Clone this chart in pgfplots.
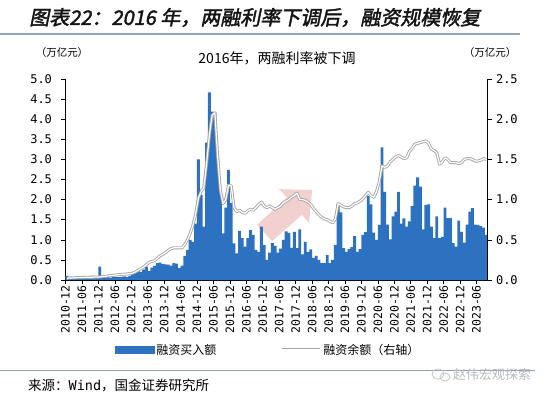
\documentclass[border=0pt]{standalone}
\usepackage{pgfplots}
\pgfplotsset{compat=1.18}
\usepackage{pgfplotstable}
\usepackage{fontspec}
\setmainfont{Liberation Sans}
\setmonofont{DejaVu Sans Mono}
\newfontfamily\cjk{Noto Sans CJK SC}
\newfontfamily\cjktitle{Noto Sans CJK SC}[FakeBold=2,FakeSlant=0.2]
\definecolor{barblue}{RGB}{44,114,192}
\definecolor{linegray}{RGB}{165,165,165}
\definecolor{titlecol}{RGB}{20,20,20}
\definecolor{rulecol}{RGB}{145,165,185}
\definecolor{arrowpink}{RGB}{220,110,110}
\pgfplotstableread{
i buy bal
0 0.10 0.020
1 0.03 0.025
2 0.03 0.026
3 0.04 0.028
4 0.04 0.030
5 0.03 0.031
6 0.03 0.032
7 0.04 0.033
8 0.03 0.034
9 0.04 0.035
10 0.04 0.036
11 0.05 0.037
12 0.33 0.038
13 0.05 0.042
14 0.06 0.046
15 0.07 0.050
16 0.06 0.054
17 0.07 0.058
18 0.08 0.062
19 0.07 0.066
20 0.08 0.070
21 0.09 0.073
22 0.08 0.076
23 0.10 0.080
24 0.15 0.085
25 0.19 0.100
26 0.23 0.120
27 0.20 0.140
28 0.26 0.160
29 0.33 0.190
30 0.22 0.220
31 0.31 0.230
32 0.35 0.240
33 0.42 0.270
34 0.43 0.300
35 0.40 0.320
36 0.39 0.340
37 0.38 0.370
38 0.36 0.390
39 0.42 0.400
40 0.41 0.400
41 0.30 0.400
42 0.36 0.400
43 0.60 0.440
44 0.75 0.500
45 1.00 0.580
46 0.95 0.680
47 1.40 0.820
48 3.00 1.020
49 2.12 1.100
50 1.33 1.150
51 3.42 1.450
52 4.67 1.800
53 4.19 2.050
54 4.17 2.080
55 3.07 1.550
56 2.24 1.120
57 1.16 0.950
58 1.80 1.000
59 2.74 1.180
60 1.92 1.170
61 0.91 0.900
62 0.66 0.850
63 1.22 0.870
64 1.04 0.840
65 0.83 0.830
66 1.04 0.860
67 1.24 0.880
68 1.12 0.870
69 0.75 0.900
70 0.70 0.940
71 1.33 0.970
72 0.87 0.920
73 0.50 0.900
74 0.68 0.920
75 0.92 0.900
76 0.85 0.880
77 0.68 0.900
78 0.78 0.920
79 1.00 0.960
80 1.21 0.980
81 1.17 1.000
82 0.80 1.030
83 1.20 1.050
84 0.79 1.080
85 1.26 1.000
86 0.64 1.000
87 0.95 0.990
88 0.70 0.970
89 0.76 0.940
90 0.55 0.890
91 0.60 0.850
92 0.50 0.810
93 0.42 0.780
94 0.42 0.760
95 0.62 0.750
96 0.42 0.730
97 0.50 0.710
98 0.87 0.760
99 1.89 0.950
100 1.68 0.930
101 0.79 0.910
102 0.70 0.900
103 0.77 0.900
104 0.82 0.920
105 1.09 0.950
106 0.70 0.960
107 0.77 0.980
108 1.12 1.010
109 1.19 1.050
110 2.09 1.090
111 1.88 1.050
112 1.18 1.030
113 1.00 1.100
114 1.37 1.220
115 3.30 1.420
116 2.19 1.400
117 1.38 1.420
118 1.01 1.470
119 1.58 1.500
120 1.70 1.530
121 2.19 1.550
122 1.40 1.530
123 1.53 1.510
124 1.33 1.520
125 1.46 1.600
126 1.84 1.640
127 2.35 1.690
128 2.55 1.700
129 2.32 1.710
130 1.26 1.720
131 1.87 1.730
132 1.88 1.700
133 1.33 1.630
134 1.04 1.610
135 1.58 1.580
136 1.04 1.440
137 1.07 1.470
138 1.80 1.520
139 1.54 1.500
140 1.54 1.460
141 0.92 1.460
142 0.83 1.460
143 1.48 1.450
144 1.20 1.460
145 0.93 1.500
146 1.38 1.510
147 1.70 1.510
148 1.79 1.500
149 1.38 1.480
150 1.37 1.480
151 1.34 1.490
152 1.30 1.510
153 1.12 1.500
}\datatab
\begin{document}
\begin{tikzpicture}
\fill[white] (0pt,0pt) rectangle (550pt,-397pt);
\path[use as bounding box] (0pt,0pt) rectangle (550pt,-397pt);
% header
\node[anchor=west, inner sep=0pt, text=titlecol, font=\cjktitle\fontsize{20}{22}\selectfont] at (29pt,-17.5pt) {图表22：2016 年，两融利率下调后，融资规模恢复};
\draw[rulecol, line width=2pt] (0pt,-34pt) -- (520pt,-34pt);
% units and inner title
\node[font=\cjk\fontsize{10.5}{12}\selectfont] at (62pt,-53pt) {（万亿元）};
\node[font=\cjk\fontsize{10.5}{12}\selectfont] at (490pt,-53pt) {（万亿元）};
\node[font=\cjk\fontsize{14}{16}\selectfont] at (277pt,-58pt) {2016年，两融利率被下调};
% left axis: bars
\begin{axis}[
  at={(65.5pt,-280pt)}, anchor=south west,
  scale only axis, width=422pt, height=201pt,
  xmin=-0.5, xmax=153.5, ymin=0, ymax=5,
  axis y line*=left, axis x line*=bottom,
  axis line style={black, line width=0.8pt},
  tick style={black, line width=0.6pt},
  tick align=outside, major tick length=4pt,
  xtick={-0.5,5.5,...,149.5},
  xticklabels={2010-12,2011-06,2011-12,2012-06,2012-12,2013-06,2013-12,2014-06,2014-12,2015-06,2015-12,2016-06,2016-12,2017-06,2017-12,2018-06,2018-12,2019-06,2019-12,2020-06,2020-12,2021-06,2021-12,2022-06,2022-12,2023-06},
  xticklabel style={rotate=90, anchor=east, font=\ttfamily\fontsize{11.5}{12}\selectfont, inner sep=1pt},
  ytick={0,0.5,1,1.5,2,2.5,3,3.5,4,4.5,5},
  yticklabel style={font=\ttfamily\fontsize{12}{12}\selectfont, xshift=-6pt},
  /pgf/number format/fixed, /pgf/number format/fixed zerofill,
  /pgf/number format/precision=1, /pgf/number format/assume math mode=true,
  clip=false,
]
\fill[arrowpink, fill opacity=0.32] (axis cs:69.4,1.37) -- (axis cs:80.3,2.06) -- (axis cs:77.4,2.26) -- (axis cs:89.5,2.24) -- (axis cs:88.4,1.42) -- (axis cs:85.8,1.62) -- (axis cs:74.9,0.97) -- cycle;
\addplot[ybar, bar width=1.05, fill=barblue, draw=none] table[x=i, y=buy] {\datatab};
\end{axis}
% right axis: line
\begin{axis}[
  at={(65.5pt,-280pt)}, anchor=south west,
  scale only axis, width=422pt, height=201pt,
  xmin=-0.5, xmax=153.5, ymin=0, ymax=2.5,
  axis y line*=right, axis x line=none,
  axis line style={black, line width=0.8pt},
  tick style={black, line width=0.6pt},
  tick align=outside, major tick length=4pt,
  ytick={0,0.5,1,1.5,2,2.5},
  yticklabel style={font=\ttfamily\fontsize{12}{12}\selectfont, xshift=1pt},
  /pgf/number format/fixed, /pgf/number format/fixed zerofill,
  /pgf/number format/precision=1, /pgf/number format/assume math mode=true,
  legend style={at={(0.48,-0.348)}, anchor=center, draw=none, fill=none,
    font=\cjk\fontsize{12}{14}\selectfont, legend columns=2,
    /tikz/every even column/.append style={column sep=62pt}},
  legend cell align=left,
]
\addlegendimage{legend image code/.code={\fill[barblue] (0pt,-3.5pt) rectangle (39pt,3.5pt);}}
\addlegendentry{融资买入额}
\addplot[linegray, line width=3pt, line join=round, no marks,
  legend image code/.code={\draw[linegray,line width=3pt] (0pt,0pt) -- (38pt,0pt); \draw[white,line width=1.2pt] (0pt,0pt) -- (38pt,0pt);}]
  table[x=i, y=bal] {\datatab};
\addlegendentry{融资余额（右轴）}
\addplot[white, line width=1.2pt, line join=round, no marks, forget plot] table[x=i, y=bal] {\datatab};
\end{axis}
% footer
\draw[rulecol, line width=1pt] (0pt,-370.5pt) -- (535pt,-370.5pt);
\node[anchor=west, inner sep=0pt, font=\cjk\fontsize{13.5}{15}\selectfont] at (28pt,-385pt) {来源：{\ttfamily Wind}，国金证券研究所};
\draw[gray!45, line width=0.8pt] (438pt,-374pt) ellipse (6pt and 5pt);
\draw[gray!45, line width=0.8pt] (445pt,-377pt) ellipse (5pt and 4pt);
\node[anchor=west, inner sep=0pt, text=gray!55, font=\cjk\fontsize{13}{15}\selectfont] at (453pt,-375pt) {赵伟宏观探索};
\end{tikzpicture}
\end{document}
